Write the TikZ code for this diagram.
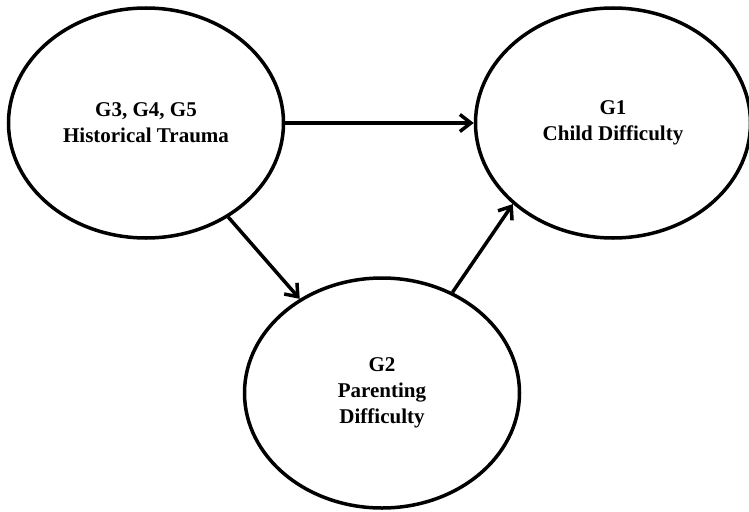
\documentclass[tikz,border=0pt]{standalone}
\usepackage{fontspec}
\setmainfont{Liberation Serif}
\usetikzlibrary{shapes.geometric,arrows.meta}

\begin{document}
\begin{tikzpicture}[x=1pt,y=-1pt,line width=3.5pt,
  factor/.style={ellipse,draw,minimum width=275pt,minimum height=230pt,
    inner sep=0pt,align=center,font=\fontsize{21}{26}\selectfont\bfseries},
  effect/.style={-{Straight Barb[length=11pt,width=17pt]}}]
\useasboundingbox (0,0) rectangle (749,511);
\node[factor] (trauma) at (146,123) {G3, G4, G5\\Historical Trauma};
\node[factor] (child) at (613,123) {G1\\Child Difficulty};
\node[factor] (parent) at (382,393) {G2\\Parenting\\Difficulty};

\draw [effect] (trauma) -- (child);
\draw [effect] (trauma) -- (parent);
\draw [effect] (parent.55) -- (child.219);
\end{tikzpicture}
\end{document}
